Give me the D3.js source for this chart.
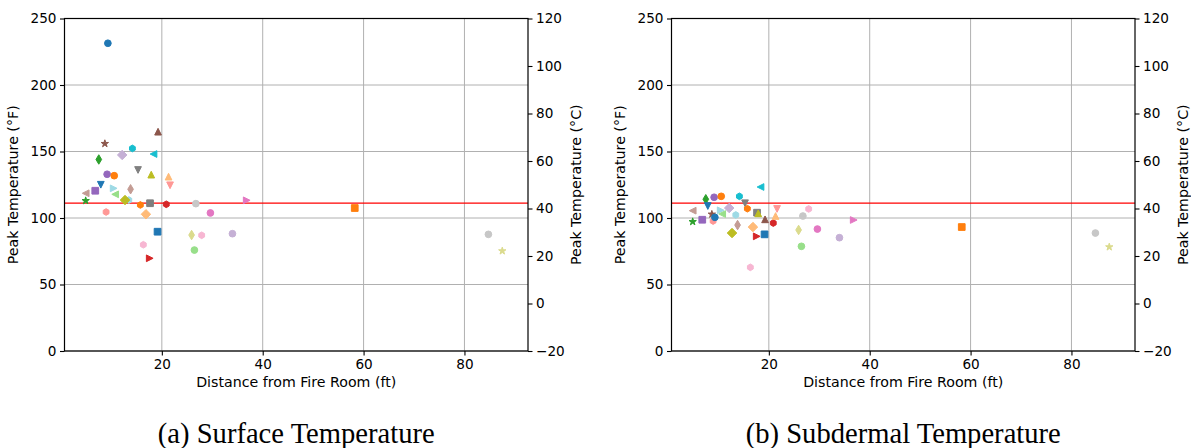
<!DOCTYPE html>
<html>
<head>
<meta charset="utf-8">
<script src="https://cdn.jsdelivr.net/npm/d3@7"></script>
<style>
  html, body { margin: 0; padding: 0; background: #fff; }
  svg { display: block; }
</style>
</head>
<body>
<div id="chart"></div>
<script>
// ---------- data ----------
const sensorColors = [
  "#c49c94", "#2ca02c", "#9467bd", "#2ca02c", "#1f77b4", "#8c564b", "#ff9896", "#9467bd",
  "#1f77b4", "#9edae5", "#ff7f0e", "#98df8a", "#c5b0d5", "#9edae5", "#bcbd22", "#c49c94",
  "#17becf", "#7f7f7f", "#ff7f0e", "#f7b6d2", "#ffbb78", "#7f7f7f", "#bcbd22", "#d62728",
  "#17becf", "#1f77b4", "#8c564b", "#d62728", "#ffbb78", "#ff9896", "#dbdb8d", "#98df8a",
  "#c7c7c7", "#f7b6d2", "#e377c2", "#c5b0d5", "#e377c2", "#ff7f0e", "#c7c7c7", "#dbdb8d"
];
const sensorMarkers = [
  "<", "*", "s", "d", "v", "*", "h", "o",
  "o", ">", "o", "<", "D", "h", "D", "d",
  "h", "v", "h", "h", "D", "s", "^", ">",
  "<", "s", "^", "h", "^", "v", "d", "o",
  "o", "h", "o", "o", ">", "s", "o", "*"
];
const distanceFt = [
  4.9, 4.9, 6.8, 7.5, 7.9, 8.7, 8.95, 9.15,
  9.3, 10.45, 10.56, 10.75, 12.14, 13.45, 12.7, 13.8,
  14.16, 15.28, 15.74, 16.33, 16.85, 17.66, 17.9, 17.6,
  18.35, 19.15, 19.25, 20.88, 21.33, 21.63, 25.9, 26.46,
  26.75, 27.9, 29.63, 34.0, 36.83, 58.25, 84.75, 87.5
];
const surfacePeakF = [
  118.6, 113.0, 120.5, 144.0, 125.0, 155.9, 104.5, 132.9,
  231.4, 122.3, 131.8, 117.8, 147.4, 113.5, 113.5, 121.6,
  152.3, 136.1, 109.8, 79.9, 102.8, 111.1, 132.6, 69.7,
  148.1, 89.7, 164.9, 110.3, 131.1, 124.6, 87.2, 75.9,
  110.8, 87.0, 103.8, 88.2, 113.3, 107.5, 87.7, 75.2
];
const subdermalPeakF = [
  105.5, 97.2, 98.7, 114.1, 109.0, 102.8, 97.7, 115.6,
  100.5, 105.8, 116.3, 103.0, 107.5, 102.3, 88.7, 94.7,
  116.3, 111.1, 107.0, 62.9, 93.2, 104.0, 103.5, 86.2,
  123.3, 87.7, 99.0, 96.2, 101.5, 106.8, 91.0, 78.7,
  101.5, 106.8, 91.7, 85.2, 98.5, 93.2, 88.7, 78.2
];
const thresholdF = 111.2;
const xTicks = [20, 40, 60, 80];
const yTicksF = [0, 50, 100, 150, 200, 250];
const yTicksC = [-20, 0, 20, 40, 60, 80, 100, 120];
const panelCaptions = ["(a) Surface Temperature", "(b) Subdermal Temperature"];
const xLabel = "Distance from Fire Room (ft)";
const yLabelF = "Peak Temperature (°F)";
const yLabelC = "Peak Temperature (°C)";

// ---------- layout ----------
const W = 1191, H = 448;
const panelLeft = [64.5, 671.5];
const pw = 463.5;
const plotTop = 18.5, plotBottom = 351;
const font = "'DejaVu Sans', sans-serif";
const fs = 13.6;
const lfs = 14.2;
const ms = 6.7;

const svg = d3.select("#chart").append("svg")
  .attr("width", W).attr("height", H)
  .style("font-family", font);

function markerPath(m, s) {
  const r = s / 2;
  const poly = (n, rad, rot) => {
    const pts = [];
    for (let k = 0; k < n; k++) {
      const a = rot + k * 2 * Math.PI / n;
      pts.push([rad * Math.cos(a), rad * Math.sin(a)]);
    }
    return "M" + pts.map(p => p[0].toFixed(2) + "," + p[1].toFixed(2)).join("L") + "Z";
  };
  const d = r * Math.SQRT2;
  switch (m) {
    case "o": return `M${r},0A${r},${r} 0 1,1 ${-r},0A${r},${r} 0 1,1 ${r},0Z`;
    case "^": return `M0,${-r}L${r},${r}L${-r},${r}Z`;
    case "v": return `M0,${r}L${r},${-r}L${-r},${-r}Z`;
    case "<": return `M${-r},0L${r},${-r}L${r},${r}Z`;
    case ">": return `M${r},0L${-r},${-r}L${-r},${r}Z`;
    case "s": return `M${-r},${-r}h${s}v${s}h${-s}Z`;
    case "D": return `M0,${-d}L${d},0L0,${d}L${-d},0Z`;
    case "d": return `M0,${-d}L${0.6 * d},0L0,${d}L${-0.6 * d},0Z`;
    case "h": return poly(6, r, -Math.PI / 2);
    case "p": return poly(5, r, -Math.PI / 2);
    case "*": {
      const pts = [];
      for (let k = 0; k < 10; k++) {
        const a = -Math.PI / 2 + k * Math.PI / 5;
        const rad = k % 2 === 0 ? r * 1.15 : r * 1.15 * 0.381966;
        pts.push([rad * Math.cos(a), rad * Math.sin(a)]);
      }
      return "M" + pts.map(p => p[0].toFixed(2) + "," + p[1].toFixed(2)).join("L") + "Z";
    }
  }
  return "";
}

const minusFmt = d => d < 0 ? "\u2212" + Math.abs(d) : String(d);

[surfacePeakF, subdermalPeakF].forEach((vals, pi) => {
  const x0 = panelLeft[pi];
  const x = d3.scaleLinear().domain([0.7, 92.6]).range([x0, x0 + pw]);
  const y = d3.scaleLinear().domain([0, 250]).range([plotBottom, plotTop]);
  const y2 = d3.scaleLinear().domain([-20, 120]).range([plotBottom, plotTop]);
  const g = svg.append("g");

  // grid
  g.append("g").selectAll("line").data(xTicks).join("line")
    .attr("x1", d => x(d)).attr("x2", d => x(d))
    .attr("y1", plotTop).attr("y2", plotBottom)
    .attr("stroke", "#b0b0b0").attr("stroke-width", 1);
  g.append("g").selectAll("line").data(yTicksF).join("line")
    .attr("x1", x0).attr("x2", x0 + pw)
    .attr("y1", d => y(d)).attr("y2", d => y(d))
    .attr("stroke", "#b0b0b0").attr("stroke-width", 1);

  // threshold line
  g.append("line")
    .attr("x1", x0).attr("x2", x0 + pw)
    .attr("y1", y(thresholdF)).attr("y2", y(thresholdF))
    .attr("stroke", "#ff0000").attr("stroke-width", 1.4);

  // points
  g.append("g").selectAll("path").data(vals.map((v, i) => ({ x: distanceFt[i], v, i }))).join("path")
    .attr("transform", d => `translate(${x(d.x)},${y(d.v)})`)
    .attr("d", d => markerPath(sensorMarkers[d.i], ms))
    .attr("fill", d => sensorColors[d.i])
    .attr("stroke", d => sensorColors[d.i])
    .attr("stroke-width", 1)
    .attr("stroke-linejoin", "miter");

  // axes
  const styleAxis = sel => {
    sel.select(".domain").remove();
    sel.selectAll("text").attr("font-size", fs).attr("font-family", font).attr("fill", "#000");
    sel.selectAll("line").attr("stroke", "#000").attr("stroke-width", 1.1);
  };
  g.append("g").attr("transform", `translate(0,${plotBottom})`)
    .call(d3.axisBottom(x).tickValues(xTicks).tickSize(4.5).tickPadding(3.5).tickFormat(d3.format("d")))
    .call(styleAxis);
  g.append("g").attr("transform", `translate(${x0},0)`)
    .call(d3.axisLeft(y).tickValues(yTicksF).tickSize(4.5).tickPadding(3.5).tickFormat(d3.format("d")))
    .call(styleAxis);
  g.append("g").attr("transform", `translate(${x0 + pw},0)`)
    .call(d3.axisRight(y2).tickValues(yTicksC).tickSize(4.5).tickPadding(3.5).tickFormat(minusFmt))
    .call(styleAxis);

  // frame
  g.append("rect").attr("x", x0).attr("y", plotTop).attr("width", pw).attr("height", plotBottom - plotTop)
    .attr("fill", "none").attr("stroke", "#000").attr("stroke-width", 1.2);

  // labels
  g.append("text").attr("x", x0 + pw / 2).attr("y", 387)
    .attr("text-anchor", "middle").attr("font-size", lfs).text(xLabel);
  g.append("text").attr("transform", `translate(${x0 - 47},${(plotTop + plotBottom) / 2}) rotate(-90)`)
    .attr("text-anchor", "middle").attr("font-size", lfs).text(yLabelF);
  g.append("text").attr("transform", `translate(${x0 + pw + 53},${(plotTop + plotBottom) / 2}) rotate(-90)`)
    .attr("text-anchor", "middle").attr("font-size", lfs).text(yLabelC);

  // caption
  g.append("text").attr("x", x0 + pw / 2).attr("y", 443)
    .attr("text-anchor", "middle")
    .attr("font-family", "'Liberation Serif', 'Times New Roman', serif")
    .attr("font-size", 28.6).text(panelCaptions[pi]);
});
</script>
</body>
</html>
